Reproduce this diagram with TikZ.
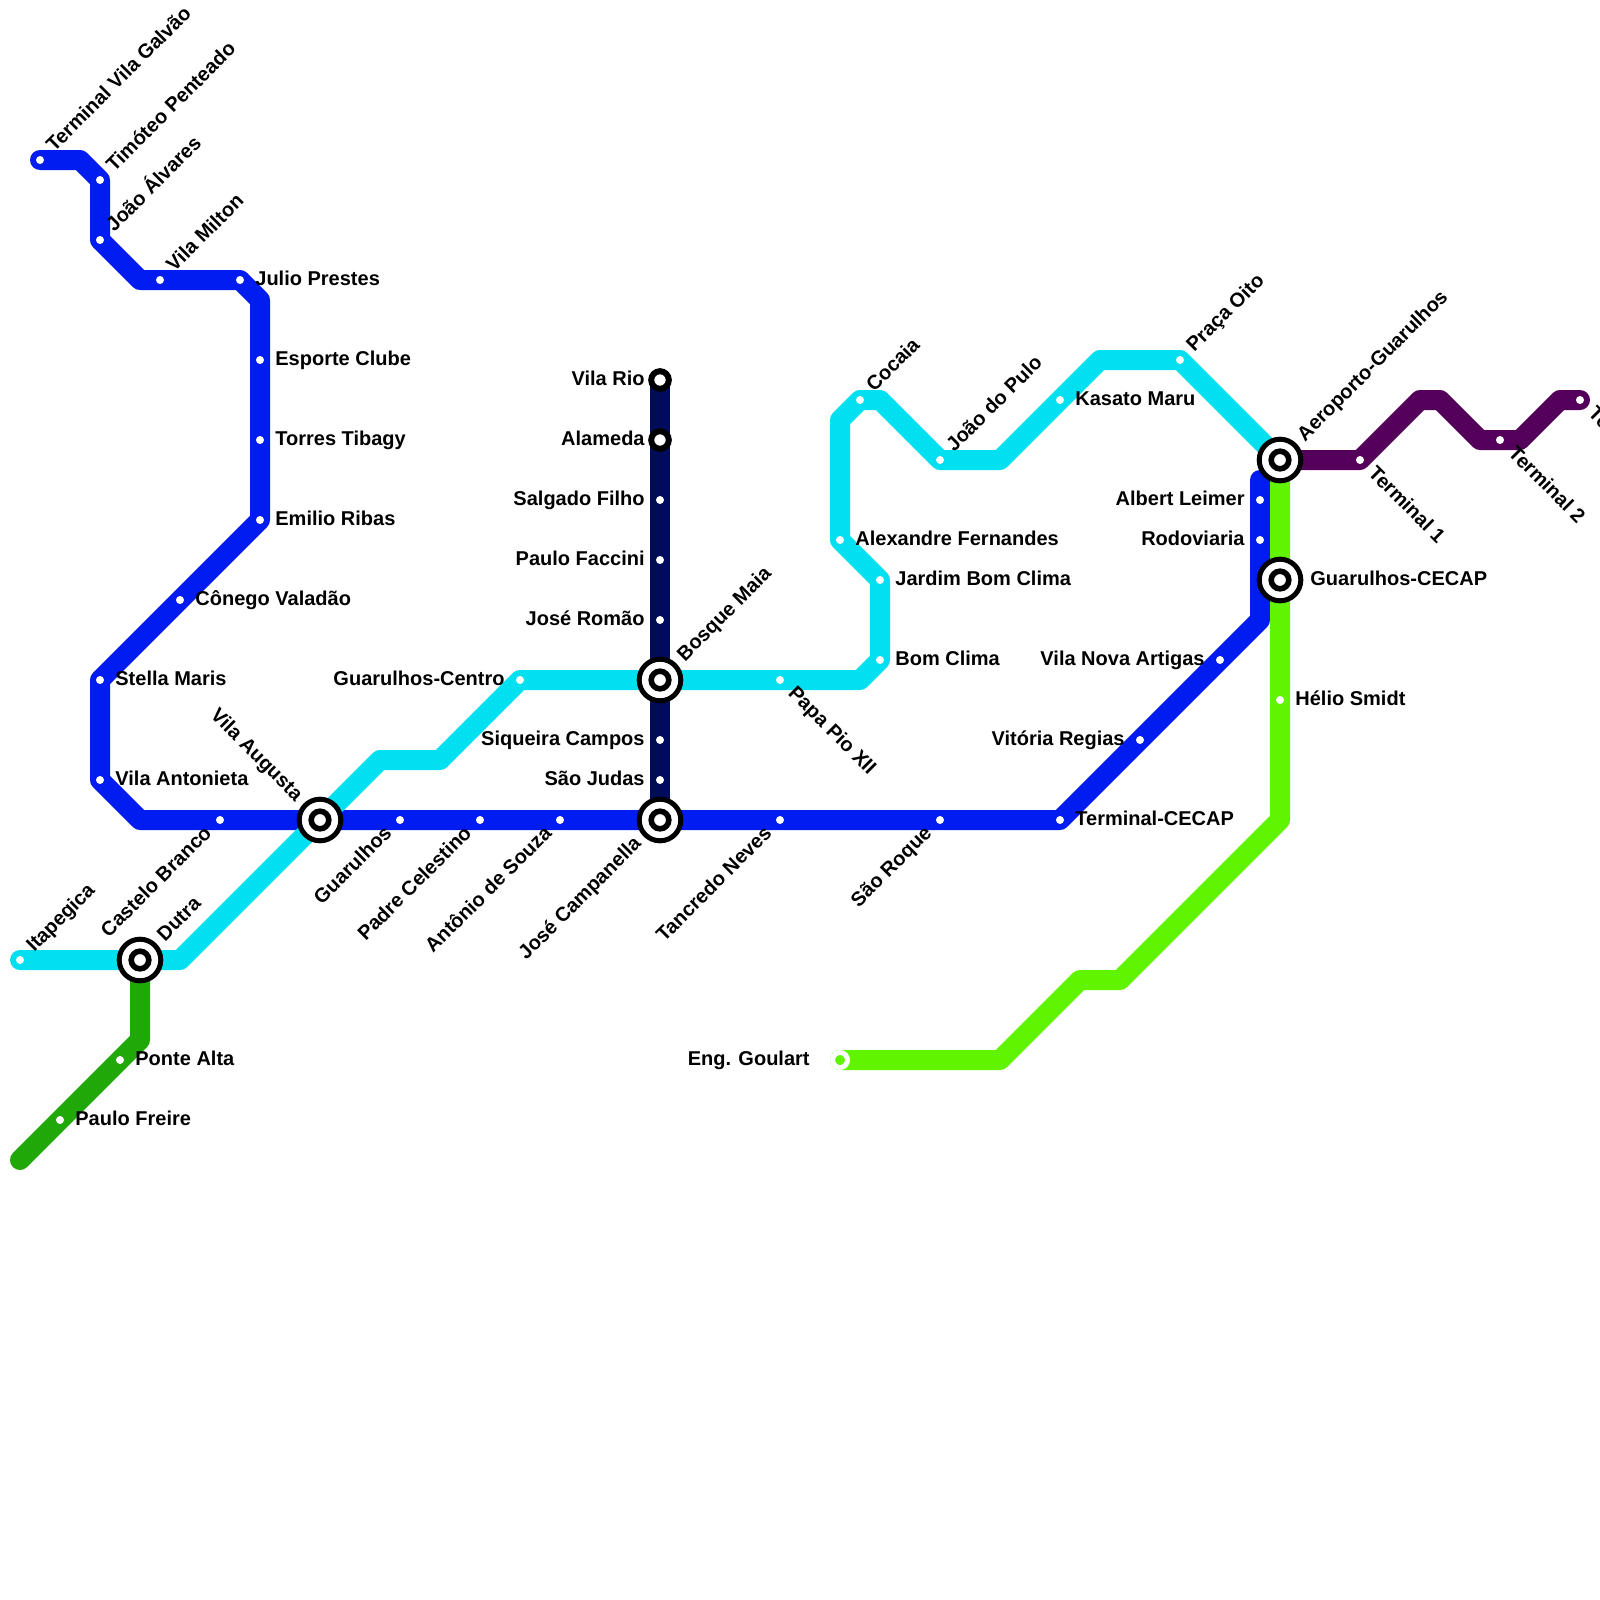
\documentclass[tikz,border=0pt]{standalone}
\usepackage{fontspec}
\setmainfont{Liberation Sans}
\definecolor{lineblue}{RGB}{0, 28, 240}
\definecolor{linecyan}{RGB}{0, 224, 240}
\definecolor{linenavy}{RGB}{0, 12, 90}
\definecolor{linelime}{RGB}{96, 244, 0}
\definecolor{linegreen}{RGB}{32, 168, 8}
\definecolor{linepurple}{RGB}{84, 0, 90}

\begin{document}
\begin{tikzpicture}[
  x=10pt, y=-10pt,
  metro/.style={line width=10pt, line join=round, line cap=round},
  stn/.style={circle, fill=white, inner sep=0pt, outer sep=0pt, minimum size=4pt},
  endstn/.style={circle, fill=linelime, draw=white, line width=2.5pt, inner sep=0pt, outer sep=0pt, minimum size=7.5pt},
  smallhub/.style={circle, fill=white, draw=black, line width=3pt, inner sep=0pt, outer sep=0pt, minimum size=8.8pt},
  hubouter/.style={circle, fill=white, draw=black, line width=2.5pt, inner sep=0pt, outer sep=0pt, minimum size=20.8pt},
  hubinner/.style={circle, fill=white, draw=black, line width=2.8pt, inner sep=0pt, outer sep=0pt, minimum size=8.8pt},
  stnlab/.style={font=\fontsize{10}{12}\selectfont\bfseries, inner sep=0pt, text=black},
  lbE/.style={stnlab, anchor=base west},
  lbW/.style={stnlab, anchor=base east},
  lbNE/.style={stnlab, anchor=base west, rotate=45},
  lbSE/.style={stnlab, anchor=base west, rotate=-45},
  lbSW/.style={stnlab, anchor=base east, rotate=45},
  lbNW/.style={stnlab, anchor=base east, rotate=-45},
]
  \useasboundingbox (0,0) rectangle (80,80);

  % Bends of the lines
  \foreach \n/\x/\y in {
    ba/4/8, bb/7/14, bc/13/15, bd/7/41, be/63/31, bf/63/24,
    ca/9/48, cb/19/38, cc/22/38, cd/43/34, ce/42/21, cf/44/20,
    cg/50/23, ch/55/18,
    la/64/41, lb/56/49, lc/54/49, ld/50/53,
    ga/7/52, gb/1/58,
    pa/71/20, pb/72/20, pc/74/22, pd/76/22, pe/78/20
  } {
    \coordinate (\n) at (\x,\y);
  }

  % Stations
  \foreach \n/\x/\y in {
    tvg/2/8, tim/5/9, joa/5/12, mil/8/14, jul/12/14, esp/13/18, tor/13/22,
    emi/13/26, con/9/30, ste/5/34, ant/5/39, cas/11/41, gua/20/41, pad/24/41,
    sou/28/41, tan/39/41, roq/47/41, tce/53/41, vit/57/37, art/61/33,
    rod/63/27, alb/63/25,
    ita/1/48, cen/26/34, pap/39/34, bom/44/33, jbc/44/29, ale/42/27,
    coc/43/20, pul/47/23, kas/53/20, pra/59/18,
    sal/33/25, fac/33/28, rom/33/31, siq/33/37, jud/33/39,
    hel/64/35, pon/6/53, fre/3/56,
    tea/68/23, teb/75/22, tec/79/20
  } {
    \coordinate (\n-pos) at (\x,\y);
  }
  \foreach \n/\x/\y in {aug/16/41, cam/33/41, dut/7/48, mai/33/34, aer/64/23, cec/64/29, rio/33/19, ala/33/22, gou/42/53} {
    \coordinate (\n-pos) at (\x,\y);
  }

  % Lines
  \draw[metro, linenavy] (rio-pos) -- (cam-pos);
  \draw[metro, lineblue] (tvg-pos) -- (ba) -- (tim-pos) -- (joa-pos) -- (bb) -- (jul-pos) -- (bc)
    -- (emi-pos) -- (ste-pos) -- (ant-pos) -- (bd) -- (tce-pos) -- (be) -- (bf);
  \draw[metro, linecyan] (ita-pos) -- (ca) -- (cb) -- (cc) -- (cen-pos) -- (cd) -- (bom-pos)
    -- (jbc-pos) -- (ale-pos) -- (ce) -- (coc-pos) -- (cf) -- (pul-pos) -- (cg) -- (ch)
    -- (pra-pos) -- (aer-pos);
  \draw[metro, linelime] (aer-pos) -- (la) -- (lb) -- (lc) -- (ld) -- (gou-pos);
  \draw[metro, linegreen] (dut-pos) -- (ga) -- (gb);
  \draw[metro, linepurple] (aer-pos) -- (tea-pos) -- (pa) -- (pb) -- (pc) -- (pd) -- (pe) -- (tec-pos);

  % Station dots
  \foreach \n in {tvg, tim, joa, mil, jul, esp, tor, emi, con, ste, ant, cas, gua, pad, sou,
    tan, roq, tce, vit, art, rod, alb, ita, cen, pap, bom, jbc, ale, coc, pul, kas, pra,
    sal, fac, rom, siq, jud, hel, pon, fre, tea, teb, tec} {
    \node[stn] (\n) at (\n-pos) {};
  }
  \node[endstn] (gou) at (gou-pos) {};

  % Interchanges
  \foreach \n in {aug, cam, dut, mai, aer, cec} {
    \node[hubouter] (\n) at (\n-pos) {};
    \node[hubinner] (\n-in) at (\n-pos) {};
  }
  \node[smallhub] (rio) at (rio-pos) {};
  \node[smallhub] (ala) at (ala-pos) {};

  % Labels to the right
  \foreach \n/\lab in {
    jul/Julio Prestes, esp/Esporte Clube, tor/Torres Tibagy, emi/Emilio Ribas,
    con/Cônego Valadão, ste/Stella Maris, ant/Vila Antonieta, tce/Terminal-CECAP,
    bom/Bom Clima, jbc/Jardim Bom Clima, ale/Alexandre Fernandes, kas/Kasato Maru,
    hel/Hélio Smidt, pon/Ponte Alta, fre/Paulo Freire
  } {
    \node[lbE] (\n-lab) at ([shift={(7.5pt,-2.5pt)}]\n) {\lab};
  }

  % Labels to the left
  \foreach \n/\lab in {
    rio/Vila Rio, ala/Alameda, sal/Salgado Filho, fac/Paulo Faccini, rom/José Romão,
    siq/Siqueira Campos, jud/São Judas, cen/Guarulhos-Centro, vit/Vitória Regias,
    art/Vila Nova Artigas, rod/Rodoviaria, alb/Albert Leimer
  } {
    \node[lbW] (\n-lab) at ([shift={(-7.5pt,-2.5pt)}]\n) {\lab};
  }

  % Rotated labels
  \foreach \n/\lab in {
    tvg/Terminal Vila Galvão, tim/Timóteo Penteado, joa/João Álvares, mil/Vila Milton,
    ita/Itapegica, coc/Cocaia, pul/João do Pulo, pra/Praça Oito
  } {
    \node[lbNE] (\n-lab) at ([shift={(7.07pt,3.54pt)}]\n) {\lab};
  }
  \foreach \n/\lab in {pap/Papa Pio XII, tea/Terminal 1, teb/Terminal 2, tec/Terminal 3} {
    \node[lbSE] (\n-lab) at ([shift={(3.54pt,-7.07pt)}]\n) {\lab};
  }
  \foreach \n/\lab in {
    cas/Castelo Branco, gua/Guarulhos, pad/Padre Celestino, sou/Antônio de Souza,
    tan/Tancredo Neves, roq/São Roque
  } {
    \node[lbSW] (\n-lab) at ([shift={(-3.54pt,-7.07pt)}]\n) {\lab};
  }

  % Labels of the interchanges
  \foreach \n/\lab in {dut/Dutra, mai/Bosque Maia, aer/Aeroporto-Guarulhos} {
    \node[lbNE] (\n-lab) at ([shift={(12.37pt,8.84pt)}]\n) {\lab};
  }
  \node[lbNW] (aug-lab) at ([shift={(-12.37pt,8.84pt)}]aug) {Vila Augusta};
  \node[lbSW] (cam-lab) at ([shift={(-8.84pt,-12.37pt)}]cam) {José Campanella};
  \node[lbE] (cec-lab) at ([shift={(15pt,-2.5pt)}]cec) {Guarulhos-CECAP};
  \node[lbW] (gou-lab) at ([shift={(-15pt,-2.5pt)}]gou) {Eng. Goulart};

\end{tikzpicture}
\end{document}
